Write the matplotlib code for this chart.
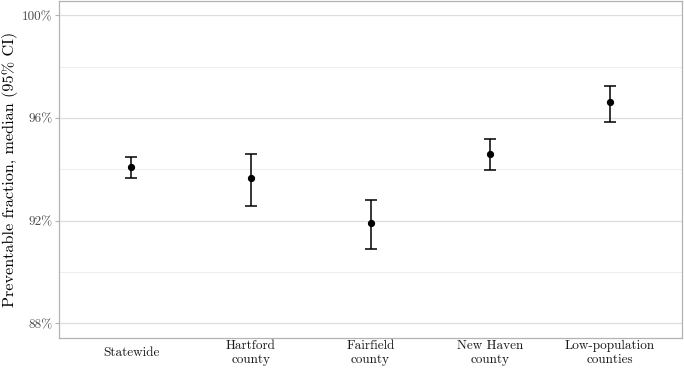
import matplotlib
matplotlib.use("Agg")
import matplotlib.pyplot as plt
import numpy as np
from matplotlib.ticker import FixedLocator, FuncFormatter

# values (percent)
regions = ["Statewide", "Hartford\ncounty", "Fairfield\ncounty",
           "New Haven\ncounty", "Low-population\ncounties"]
median = [94.08, 93.67, 91.90, 94.61, 96.61]
lower = [93.65, 92.58, 90.90, 93.99, 95.84]
upper = [94.47, 94.60, 92.79, 95.19, 97.25]
yticks = [88, 92, 96, 100]
yminor = [90, 94, 98]

plt.rcParams["font.family"] = "serif"
plt.rcParams["font.serif"] = ["cmr10", "DejaVu Serif"]
plt.rcParams["axes.formatter.use_mathtext"] = True

fig = plt.figure(figsize=(6.84, 3.68), dpi=100)
ax = fig.add_axes([59.3 / 684, 1 - 338 / 368, (681.7 - 59.3) / 684, 337.5 / 368])

x = np.arange(len(regions))
med = np.array(median)
yerr = [med - np.array(lower), np.array(upper) - med]
ax.errorbar(x, med, yerr=yerr, fmt="o", color="black", ms=4.2,
            elinewidth=1.1, capsize=4.3, capthick=1.1, zorder=3)

ax.set_xlim(-0.6, len(regions) - 0.4)
ax.set_ylim(87.43, 100.58)
ax.yaxis.set_major_locator(FixedLocator(yticks))
ax.yaxis.set_minor_locator(FixedLocator(yminor))
ax.yaxis.set_major_formatter(FuncFormatter(lambda v, p: f"{v:.0f}%"))
ax.set_xticks(x)
ax.set_xticklabels(regions, fontsize=9.5, linespacing=1.25)
for lab in ax.get_xticklabels():
    lab.set_verticalalignment("center")

ax.grid(True, which="major", color="#DEDEDE", linewidth=0.9)
ax.grid(True, which="minor", axis="y", color="#EBEBEB", linewidth=0.6)
ax.grid(False, axis="x", which="both")
ax.set_axisbelow(True)
for s in ax.spines.values():
    s.set_color("#B3B3B3")
    s.set_linewidth(0.9)

ax.tick_params(axis="y", which="major", length=3, color="#B3B3B3",
               labelsize=9.5, pad=2, labelcolor="#4D4D4D")
ax.tick_params(axis="y", which="minor", length=0)
ax.tick_params(axis="x", length=0, pad=10.8, labelcolor="#1A1A1A")
ax.set_ylabel("Preventable fraction, median (95% CI)", fontsize=11.7)
ax.yaxis.set_label_coords(-0.067, 0.5)

fig.savefig("out.png", dpi=100)
